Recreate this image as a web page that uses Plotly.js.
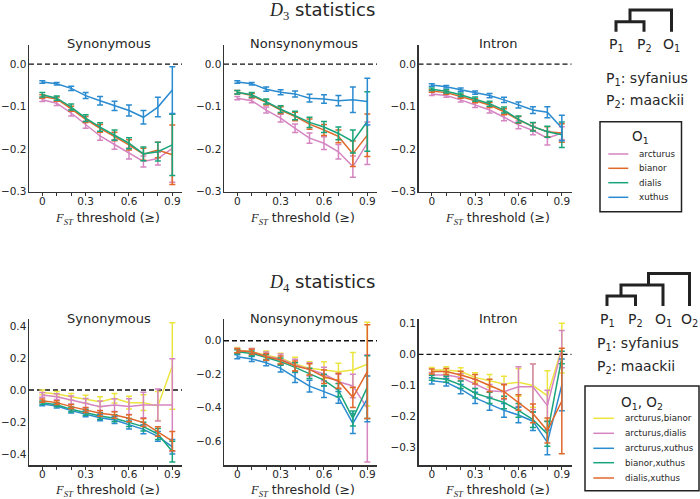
<!DOCTYPE html>
<html><head><meta charset="utf-8">
<script src="https://cdn.plot.ly/plotly-3.0.1.min.js"></script>
<style>html,body{margin:0;padding:0;background:#fff}#chart{width:700px;height:499px}</style>
</head><body><div id="chart"></div>
<script>
// ---------------- data ----------------
const thresholds = [0, 0.1, 0.2, 0.3, 0.4, 0.5, 0.6, 0.7, 0.8, 0.9];
const xTickVals = [0, 0.3, 0.6, 0.9];
const xTickLabels = ['0', '0.3', '0.6', '0.9'];
const panelTitles = ['Synonymous', 'Nonsynonymous', 'Intron'];

// D3: outgroup O1
const d3Outgroups = ['arcturus', 'bianor', 'dialis', 'xuthus'];
const d3Colors = ['#d585c1', '#e0682b', '#19a57b', '#2a8bd0'];

const d3SynMean = [
  [-0.084, -0.092, -0.115, -0.143, -0.169, -0.189, -0.210, -0.229, -0.222, -0.198],
  [-0.076, -0.082, -0.105, -0.130, -0.151, -0.170, -0.190, -0.212, -0.202, -0.213],
  [-0.072, -0.080, -0.101, -0.127, -0.148, -0.167, -0.186, -0.211, -0.206, -0.190],
  [-0.042, -0.046, -0.057, -0.074, -0.086, -0.098, -0.109, -0.125, -0.101, -0.061]
];
const d3SynErr = [
  [0.004, 0.005, 0.007, 0.008, 0.010, 0.011, 0.013, 0.013, 0.015, 0.080],
  [0.004, 0.005, 0.006, 0.007, 0.009, 0.010, 0.012, 0.014, 0.018, 0.070],
  [0.005, 0.005, 0.007, 0.008, 0.010, 0.012, 0.013, 0.016, 0.022, 0.072],
  [0.003, 0.003, 0.005, 0.007, 0.010, 0.011, 0.013, 0.016, 0.023, 0.055]
];
const d3NonMean = [
  [-0.080, -0.086, -0.108, -0.127, -0.151, -0.174, -0.186, -0.206, -0.241, -0.186],
  [-0.066, -0.074, -0.090, -0.108, -0.123, -0.141, -0.155, -0.170, -0.211, -0.167],
  [-0.066, -0.072, -0.088, -0.106, -0.121, -0.137, -0.148, -0.163, -0.182, -0.135],
  [-0.042, -0.046, -0.059, -0.066, -0.070, -0.080, -0.082, -0.086, -0.084, -0.088]
];
const d3NonErr = [
  [0.004, 0.005, 0.007, 0.009, 0.010, 0.012, 0.015, 0.017, 0.025, 0.050],
  [0.004, 0.005, 0.006, 0.008, 0.010, 0.012, 0.013, 0.015, 0.030, 0.050],
  [0.004, 0.005, 0.006, 0.008, 0.010, 0.012, 0.013, 0.015, 0.027, 0.070],
  [0.003, 0.003, 0.005, 0.006, 0.007, 0.009, 0.010, 0.012, 0.030, 0.055]
];
const d3IntMean = [
  [-0.070, -0.074, -0.084, -0.096, -0.108, -0.125, -0.143, -0.156, -0.174, -0.162],
  [-0.063, -0.067, -0.076, -0.086, -0.096, -0.112, -0.131, -0.147, -0.159, -0.162],
  [-0.059, -0.064, -0.072, -0.082, -0.093, -0.108, -0.130, -0.147, -0.159, -0.166],
  [-0.049, -0.053, -0.060, -0.067, -0.074, -0.084, -0.096, -0.108, -0.113, -0.150]
];
const d3IntErr = [
  [0.004, 0.004, 0.005, 0.006, 0.007, 0.008, 0.009, 0.010, 0.016, 0.015],
  [0.003, 0.004, 0.004, 0.005, 0.006, 0.007, 0.008, 0.009, 0.012, 0.022],
  [0.003, 0.004, 0.004, 0.005, 0.006, 0.007, 0.008, 0.010, 0.013, 0.030],
  [0.003, 0.003, 0.004, 0.004, 0.005, 0.006, 0.007, 0.008, 0.013, 0.030]
];

// D4: outgroups O1,O2
const d4Outgroups = ['arcturus,bianor', 'arcturus,dialis', 'arcturus,xuthus', 'bianor,xuthus', 'dialis,xuthus'];
const d4Colors = ['#ece43f', '#d585c1', '#2a8bd0', '#19a57b', '#e0682b'];

const d4SynMean = [
  [-0.015, -0.025, -0.042, -0.058, -0.073, -0.052, -0.079, -0.079, -0.100, 0.150],
  [-0.031, -0.042, -0.062, -0.083, -0.104, -0.094, -0.104, -0.094, -0.094, -0.094],
  [-0.088, -0.100, -0.129, -0.150, -0.173, -0.188, -0.219, -0.246, -0.290, -0.355],
  [-0.079, -0.092, -0.121, -0.140, -0.163, -0.177, -0.204, -0.229, -0.275, -0.385],
  [-0.067, -0.079, -0.104, -0.125, -0.146, -0.156, -0.177, -0.204, -0.260, -0.320]
];
const d4SynErr = [
  [0.015, 0.015, 0.020, 0.025, 0.030, 0.030, 0.040, 0.050, 0.090, 0.270],
  [0.015, 0.018, 0.025, 0.030, 0.035, 0.040, 0.050, 0.080, 0.100, 0.290],
  [0.010, 0.012, 0.015, 0.018, 0.020, 0.022, 0.025, 0.028, 0.030, 0.045],
  [0.010, 0.012, 0.015, 0.018, 0.020, 0.022, 0.025, 0.028, 0.035, 0.065],
  [0.010, 0.012, 0.014, 0.016, 0.018, 0.020, 0.022, 0.025, 0.030, 0.060]
];
const d4NonMean = [
  [-0.056, -0.066, -0.086, -0.105, -0.139, -0.165, -0.175, -0.185, -0.175, -0.140],
  [-0.060, -0.066, -0.092, -0.109, -0.145, -0.171, -0.199, -0.245, -0.270, -0.404],
  [-0.096, -0.109, -0.131, -0.165, -0.219, -0.271, -0.304, -0.338, -0.494, -0.347],
  [-0.066, -0.076, -0.100, -0.125, -0.159, -0.195, -0.235, -0.295, -0.464, -0.277],
  [-0.060, -0.066, -0.096, -0.115, -0.151, -0.171, -0.215, -0.239, -0.338, -0.185]
];
const d4NonErr = [
  [0.015, 0.020, 0.025, 0.030, 0.040, 0.040, 0.050, 0.050, 0.105, 0.250],
  [0.015, 0.020, 0.025, 0.030, 0.035, 0.040, 0.040, 0.045, 0.070, 0.320],
  [0.012, 0.015, 0.018, 0.022, 0.030, 0.035, 0.035, 0.035, 0.060, 0.137],
  [0.012, 0.015, 0.018, 0.022, 0.028, 0.030, 0.035, 0.040, 0.045, 0.187],
  [0.012, 0.015, 0.020, 0.024, 0.030, 0.033, 0.040, 0.045, 0.060, 0.280]
];
const d4IntMean = [
  [-0.050, -0.050, -0.055, -0.074, -0.085, -0.095, -0.090, -0.100, -0.133, 0.020],
  [-0.066, -0.066, -0.074, -0.095, -0.117, -0.120, -0.104, -0.104, -0.165, 0.017],
  [-0.085, -0.090, -0.112, -0.140, -0.160, -0.180, -0.195, -0.215, -0.283, -0.098],
  [-0.075, -0.080, -0.098, -0.125, -0.140, -0.155, -0.180, -0.210, -0.256, -0.010],
  [-0.055, -0.055, -0.066, -0.080, -0.100, -0.120, -0.155, -0.190, -0.245, -0.150]
];
const d4IntErr = [
  [0.008, 0.010, 0.012, 0.015, 0.020, 0.025, 0.045, 0.070, 0.080, 0.080],
  [0.008, 0.010, 0.012, 0.015, 0.020, 0.025, 0.064, 0.073, 0.050, 0.060],
  [0.010, 0.012, 0.015, 0.018, 0.020, 0.022, 0.025, 0.030, 0.040, 0.083],
  [0.008, 0.010, 0.012, 0.015, 0.018, 0.020, 0.022, 0.025, 0.040, 0.020],
  [0.008, 0.010, 0.012, 0.015, 0.020, 0.022, 0.025, 0.030, 0.040, 0.170]
];

// y ticks per panel
const yTicksTop = [0, -0.1, -0.2, -0.3];
const yLabelsTop = ['0.0', '\u22120.1', '\u22120.2', '\u22120.3'];
const yTicksSynD4 = [0.4, 0.2, 0, -0.2, -0.4];
const yLabelsSynD4 = ['0.4', '0.2', '0.0', '\u22120.2', '\u22120.4'];
const yTicksNonD4 = [0, -0.2, -0.4, -0.6];
const yLabelsNonD4 = ['0.0', '\u22120.2', '\u22120.4', '\u22120.6'];
const yTicksIntD4 = [0.1, 0, -0.1, -0.2, -0.3];
const yLabelsIntD4 = ['0.1', '0.0', '\u22120.1', '\u22120.2', '\u22120.3'];

// ---------------- layout helpers ----------------
const W = 700, H = 499;
const px = x => x / W;
const py = y => 1 - y / H;
const FONT = 'DejaVu Sans, sans-serif';
const INK = '#262626';

const colPx = [[29, 182], [224, 377], [418.5, 571.5]];
const rowPx = [[45, 191.7], [319.3, 465]];
const xTitleGap = [26.5, 25];
const xRange = [-0.092, 0.967];
const yRanges = [[-0.3, 0.045], [-0.3, 0.045], [-0.3, 0.045], [-0.469, 0.442], [-0.742, 0.128], [-0.356, 0.113]];
const yTickSets = [[yTicksTop, yLabelsTop], [yTicksTop, yLabelsTop], [yTicksTop, yLabelsTop],
                   [yTicksSynD4, yLabelsSynD4], [yTicksNonD4, yLabelsNonD4], [yTicksIntD4, yLabelsIntD4]];

const panels = [
  [d3SynMean, d3SynErr, d3Outgroups, d3Colors],
  [d3NonMean, d3NonErr, d3Outgroups, d3Colors],
  [d3IntMean, d3IntErr, d3Outgroups, d3Colors],
  [d4SynMean, d4SynErr, d4Outgroups, d4Colors],
  [d4NonMean, d4NonErr, d4Outgroups, d4Colors],
  [d4IntMean, d4IntErr, d4Outgroups, d4Colors]
];

const traces = [];
const layout = {
  width: W, height: H,
  margin: {l: 0, r: 0, t: 0, b: 0, pad: 0},
  paper_bgcolor: '#fff', plot_bgcolor: '#fff',
  showlegend: false,
  font: {family: FONT, color: INK},
  shapes: [], annotations: []
};

panels.forEach((p, i) => {
  const [means, errs, names, colors] = p;
  const n = i + 1;
  const xa = n === 1 ? 'x' : 'x' + n;
  const ya = n === 1 ? 'y' : 'y' + n;
  const r = Math.floor(i / 3);
  const col = colPx[i % 3], row = rowPx[r];
  means.forEach((m, k) => {
    traces.push({
      type: 'scatter', mode: 'lines', name: names[k],
      x: thresholds, y: m, xaxis: xa, yaxis: ya,
      line: {color: colors[k], width: 1.5},
      error_y: {type: 'data', array: errs[k], visible: true, color: colors[k], thickness: 1.5, width: 3},
      hoverinfo: 'x+y+name'
    });
  });
  layout['xaxis' + (n === 1 ? '' : n)] = {
    domain: [px(col[0]), px(col[1])], anchor: ya, range: xRange,
    tickmode: 'array', tickvals: xTickVals, ticktext: xTickLabels,
    ticks: 'outside', ticklen: 3, tickwidth: 1, tickcolor: '#333', ticklabelstandoff: -4,
    minor: {tickmode: 'array', tickvals: [0.1, 0.2, 0.4, 0.5, 0.7, 0.8], ticks: 'outside', ticklen: 3, tickwidth: 1, tickcolor: '#333'},
    showline: true, linecolor: '#333', linewidth: 1.5,
    showgrid: false, zeroline: false,
    tickfont: {family: FONT, size: 10.5, color: INK}
  };
  layout['yaxis' + (n === 1 ? '' : n)] = {
    domain: [py(row[1]), py(row[0])], anchor: xa, range: yRanges[i],
    tickmode: 'array', tickvals: yTickSets[i][0], ticktext: yTickSets[i][1],
    ticks: '', ticklabelstandoff: -1,
    showline: true, linecolor: '#333', linewidth: 1.5,
    showgrid: false, zeroline: false,
    tickfont: {family: FONT, size: 10.5, color: INK}
  };
  // dashed reference line at zero
  layout.shapes.push({
    type: 'line', xref: xa + ' domain', yref: ya, x0: 0, x1: 1, y0: 0, y1: 0,
    line: {color: '#111', width: 1.3, dash: '5px,3px'}, layer: 'below'
  });
  // panel title
  layout.annotations.push({
    xref: 'paper', yref: 'paper', x: px((col[0] + col[1]) / 2 + 3), y: py(row[0] - 1),
    text: panelTitles[i % 3], showarrow: false, xanchor: 'center', yanchor: 'middle',
    font: {family: FONT, size: 13, color: INK}
  });
  // x axis title
  layout.annotations.push({
    xref: 'paper', yref: 'paper', x: px((col[0] + col[1]) / 2 + 2), y: py(row[1] + xTitleGap[r]),
    text: '<span style="font-family:Liberation Serif"><i>F</i><sub><i>ST</i></sub></span> threshold (\u2265)',
    showarrow: false, xanchor: 'center', yanchor: 'middle',
    font: {family: FONT, size: 12.5, color: INK}
  });
});

// main titles
[['3', 11.5], ['4', 283]].forEach(([k, y]) => {
  layout.annotations.push({
    xref: 'paper', yref: 'paper', x: px(322), y: py(y),
    text: '<span style="font-family:Liberation Serif"><i>D</i><sub>' + k + '</sub></span> statistics',
    showarrow: false, xanchor: 'center', yanchor: 'middle',
    font: {family: FONT, size: 18, color: INK}
  });
});

// tree diagrams
const treeLine = {color: '#222', width: 3};
function pathOf(pts) {
  return 'M ' + pts.map(([x, y]) => px(x).toFixed(5) + ',' + py(y).toFixed(5)).join(' L ');
}
const treePaths = [
  [[616, 31.7], [616, 21.7], [644, 21.7], [644, 31.7]],
  [[630, 21.7], [630, 10], [671.5, 10], [671.5, 31.7]],
  [[607, 306], [607, 296], [635.5, 296], [635.5, 306]],
  [[621, 296], [621, 285], [663, 285], [663, 306]],
  [[648.5, 285], [648.5, 273.5], [689.5, 273.5], [689.5, 306]]
];
treePaths.forEach(pts => layout.shapes.push({type: 'path', xref: 'paper', yref: 'paper', path: pathOf(pts), line: treeLine}));

const treeLabels = [
  ['P<sub>1</sub>', 616, 45], ['P<sub>2</sub>', 644, 45], ['O<sub>1</sub>', 671, 45],
  ['P<sub>1</sub>', 607, 320], ['P<sub>2</sub>', 635.5, 320], ['O<sub>1</sub>', 663, 320], ['O<sub>2</sub>', 689.5, 320]
];
treeLabels.forEach(([t, x, y]) => layout.annotations.push({
  xref: 'paper', yref: 'paper', x: px(x), y: py(y), text: t, showarrow: false,
  xanchor: 'center', yanchor: 'middle', font: {family: FONT, size: 14, color: INK}
}));
const popLabels = [
  ['P<sub>1</sub>: syfanius', 604, 79], ['P<sub>2</sub>: maackii', 604, 101],
  ['P<sub>1</sub>: syfanius', 595, 344], ['P<sub>2</sub>: maackii', 595, 367]
];
popLabels.forEach(([t, x, y]) => layout.annotations.push({
  xref: 'paper', yref: 'paper', x: px(x), y: py(y), text: t, showarrow: false,
  xanchor: 'left', yanchor: 'middle', font: {family: FONT, size: 14, color: INK}
}));

// legends (drawn as boxes with sample lines)
function drawLegend(box, title, titleY, names, colors, rowYs, lineX, textX) {
  layout.shapes.push({type: 'rect', xref: 'paper', yref: 'paper',
    x0: px(box[0]), x1: px(box[1]), y0: py(box[3]), y1: py(box[2]),
    line: {color: '#222', width: 1.5}, fillcolor: 'rgba(255,255,255,1)'});
  layout.annotations.push({xref: 'paper', yref: 'paper', x: px((box[0] + box[1]) / 2), y: py(titleY),
    text: title, showarrow: false, xanchor: 'center', yanchor: 'middle', font: {family: FONT, size: 13.5, color: INK}});
  names.forEach((nm, k) => {
    layout.shapes.push({type: 'line', xref: 'paper', yref: 'paper', x0: px(lineX[0]), x1: px(lineX[1]),
      y0: py(rowYs[k]), y1: py(rowYs[k]), line: {color: colors[k], width: 1.5}});
    layout.annotations.push({xref: 'paper', yref: 'paper', x: px(textX), y: py(rowYs[k]), text: nm,
      showarrow: false, xanchor: 'left', yanchor: 'middle', font: {family: FONT, size: 8.7, color: INK}});
  });
}
drawLegend([600, 681.5, 121.7, 211.7], 'O<sub>1</sub>', 137, d3Outgroups, d3Colors, [154, 168.3, 182.7, 197.3], [608.3, 628.3], 636.5);
drawLegend([585, 699, 386, 490.7], 'O<sub>1</sub>, O<sub>2</sub>', 403.3, d4Outgroups, d4Colors, [418.3, 433.3, 448.3, 462.7, 478], [593.3, 614], 622.5);

Plotly.newPlot('chart', traces, layout, {staticPlot: true, displayModeBar: false});
</script>
</body></html>
